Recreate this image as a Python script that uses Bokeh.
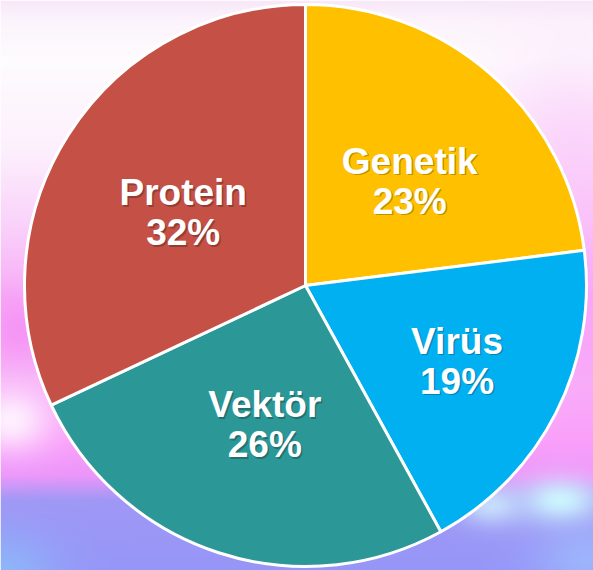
import numpy as np
from bokeh.plotting import figure
from bokeh.models import Range1d, ColumnDataSource
from bokeh.core.properties import value
from bokeh.embed import file_html
from bokeh.resources import INLINE

# ---- data ----
categories = ["Genetik", "Virüs", "Vektör", "Protein"]
shares = [23, 19, 26, 32]
pct_labels = ["23%", "19%", "26%", "32%"]
colors = ["#FFC000", "#00B0F0", "#2C9797", "#C55046"]

# ---- layout ----
W, H = 593, 570
CX, CY = 305, 570 - 285     # pie centre in plot units (pixels, y up)
R = 281
label_r = [0.53, 0.60, 0.51, 0.51]   # radial placement of labels (fraction of R)
label_da = [3.0, -1.0, -1.5, -1.0]   # small angular nudges (deg)

p = figure(width=W, height=H, x_range=Range1d(0, W), y_range=Range1d(0, H),
           x_axis_type=None, y_axis_type=None, output_backend="svg",
           toolbar_location=None, min_border=0)
p.outline_line_color = None
p.grid.visible = False

# ---- blurred background ----
rows = np.arange(H)
wy = H - (rows + 0.5)                  # window y (down)
wx = np.arange(W) + 0.5                # window x
WX, WY = np.meshgrid(wx, wy)

stops_y = [0, 20, 60, 150, 220, 300, 380, 440, 475, 500, 570]
stops_c = [(248, 232, 248), (252, 244, 252), (254, 252, 254), (253, 240, 253),
           (250, 212, 250), (247, 172, 247), (248, 182, 248), (250, 160, 250),
           (236, 150, 250), (160, 152, 245), (150, 150, 248)]
img = np.zeros((H, W, 3))
for k in range(3):
    img[..., k] = np.interp(WY, stops_y, [c[k] for c in stops_c])

def blob(cx, cy, sx, sy, col, a):
    g = a * np.exp(-(((WX - cx) / sx) ** 2 + ((WY - cy) / sy) ** 2) / 2)
    for k in range(3):
        img[..., k] = img[..., k] * (1 - g) + col[k] * g

blob(570, 160, 60, 70, (250, 205, 250), 0.7)
blob(585, 320, 40, 90, (250, 160, 250), 0.6)
blob(20, 330, 30, 25, (245, 140, 245), 0.7)
blob(10, 420, 28, 22, (255, 248, 255), 0.9)
blob(560, 500, 28, 16, (210, 255, 255), 0.9)
blob(490, 505, 22, 14, (215, 250, 255), 0.7)
blob(0, 575, 40, 30, (140, 190, 250), 0.8)
blob(590, 560, 40, 25, (160, 200, 255), 0.6)

img = np.clip(img, 0, 255).astype(np.uint32)
rgba = (255 << 24) | (img[..., 2] << 16) | (img[..., 1] << 8) | img[..., 0]
p.image_rgba(image=[rgba.astype(np.uint32)], x=0, y=0, dw=W, dh=H)

# ---- wedges ----
total = float(sum(shares))
cum = np.cumsum([0] + shares[:-1]) / total * 2 * np.pi
frac = np.array(shares) / total * 2 * np.pi
start = np.pi / 2 - cum
end = np.pi / 2 - (cum + frac)
mid = cum + frac / 2 + np.radians(label_da)

src = ColumnDataSource(dict(start=start, end=end, color=colors))
p.wedge(x=CX, y=CY, radius=R, start_angle="start", end_angle="end",
        direction="clock", fill_color="color", line_color="white",
        line_width=3, source=src)

lx = CX + np.array(label_r) * R * np.sin(mid)
ly = CY + np.array(label_r) * R * np.cos(mid)

y1 = ly + 18
y2 = ly - 22
lab = ColumnDataSource(dict(x=lx, y1=y1, y2=y2,
                            sx=lx + 1.5, sy1=y1 - 1.5, sy2=y2 - 1.5,
                            name=categories, pct=pct_labels))
common = dict(text_font=value("Liberation Sans"), text_font_style="bold",
              text_font_size="37px", text_align="center",
              text_baseline="alphabetic", source=lab)
p.text(x="sx", y="sy1", text="name", text_color="black", text_alpha=0.25, **common)
p.text(x="sx", y="sy2", text="pct", text_color="black", text_alpha=0.25, **common)
p.text(x="x", y="y1", text="name", text_color="white", **common)
p.text(x="x", y="y2", text="pct", text_color="white", **common)

open("out.html", "w").write(file_html(p, INLINE))
